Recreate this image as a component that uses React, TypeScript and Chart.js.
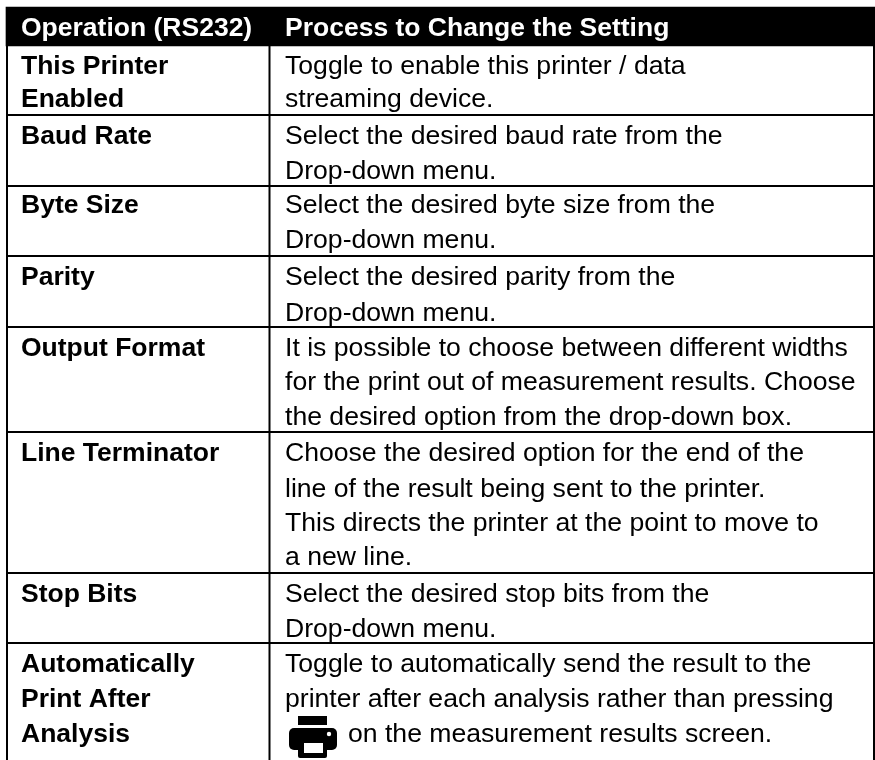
import React, { useEffect, useRef } from "react";
import { Chart, registerables } from "chart.js";

Chart.register(...registerables);

const headers = ["Operation (RS232)", "Process to Change the Setting"];
const operations = [
  ["This Printer", "Enabled"],
  ["Baud Rate"],
  ["Byte Size"],
  ["Parity"],
  ["Output Format"],
  ["Line Terminator"],
  ["Stop Bits"],
  ["Automatically", "Print After", "Analysis"],
];
const processes = [
  ["Toggle to enable this printer / data", "streaming device."],
  ["Select the desired baud rate from the", "Drop-down menu."],
  ["Select the desired byte size from the", "Drop-down menu."],
  ["Select the desired parity from the", "Drop-down menu."],
  ["It is possible to choose between different widths", "for the print out of measurement results. Choose", "the desired option from the drop-down box."],
  ["Choose the desired option for the end of the", "line of the result being sent to the printer.", "This directs the printer at the point to move to", "a new line."],
  ["Select the desired stop bits from the", "Drop-down menu."],
  ["Toggle to automatically send the result to the", "printer after each analysis rather than pressing", "on the measurement results screen."],
];
const baselines = [
  [74, 107],
  [144, 179],
  [213, 248],
  [285, 321],
  [356, 390, 425],
  [461, 497, 531, 565],
  [602, 637],
  [672, 707, 742],
];
const rowLines = [115, 186, 256, 327, 432, 573, 643];
const columnDivider = 269.5;
const tableLeft = 7;
const tableRight = 874;
const headerTop = 7;
const headerBottom = 46;
const pageBottom = 760;

const FONT = '"Liberation Sans", Arial, sans-serif';
const BODY_SIZE = 26.6;
const BOLD_SIZE = 26.5;

const tablePlugin = {
  id: "tablePlugin",
  afterDatasetsDraw(chart: any) {
    const { ctx, scales } = chart;
    const x = scales.x;
    const y = scales.y;
    const px = (v: number) => x.getPixelForValue(v);
    const py = (v: number) => y.getPixelForValue(v);
    ctx.save();
    ctx.strokeStyle = "#000";
    ctx.lineWidth = 2;
    rowLines.forEach((v) => {
      ctx.beginPath();
      ctx.moveTo(px(tableLeft), py(v));
      ctx.lineTo(px(tableRight), py(v));
      ctx.stroke();
    });
    const vline = (v: number, a: number, b: number) => {
      ctx.beginPath();
      ctx.moveTo(px(v), py(a));
      ctx.lineTo(px(v), py(b));
      ctx.stroke();
    };
    vline(tableLeft, headerTop, pageBottom);
    vline(tableRight, headerTop, pageBottom);
    vline(columnDivider, headerBottom, pageBottom);

    ctx.textBaseline = "alphabetic";
    ctx.textAlign = "left";
    ctx.fillStyle = "#fff";
    ctx.font = `bold ${BOLD_SIZE}px ${FONT}`;
    ctx.fillText(headers[0], px(21), py(36));
    ctx.fillText(headers[1], px(285), py(36));

    ctx.fillStyle = "#000";
    operations.forEach((lines, r) => {
      ctx.font = `bold ${BOLD_SIZE}px ${FONT}`;
      lines.forEach((t, i) => ctx.fillText(t, px(21), py(baselines[r][i])));
      ctx.font = `${BODY_SIZE}px ${FONT}`;
      processes[r].forEach((t, i) => {
        const isIconLine = r === processes.length - 1 && i === 2;
        ctx.fillText(t, px(isIconLine ? 348 : 285), py(baselines[r][i]));
      });
    });

    // printer glyph
    const ix = px(289);
    const iy = py(716);
    ctx.fillStyle = "#000";
    ctx.fillRect(ix + 9, iy, 29, 9);
    ctx.beginPath();
    ctx.roundRect(ix, iy + 12, 48, 22, 5);
    ctx.fill();
    ctx.beginPath();
    ctx.roundRect(ix + 9, iy + 26, 29, 16, 2);
    ctx.fill();
    ctx.fillStyle = "#fff";
    ctx.fillRect(ix + 15, iy + 27, 19, 10);
    ctx.beginPath();
    ctx.arc(ix + 40, iy + 18, 2.2, 0, Math.PI * 2);
    ctx.fill();
    ctx.restore();
  },
};

export default function App() {
  const ref = useRef<HTMLCanvasElement>(null);
  useEffect(() => {
    const chart = new Chart(ref.current!, {
      type: "bar",
      data: {
        labels: ["header"],
        datasets: [
          {
            data: [{ x: [tableLeft - 1, tableRight + 1], y: (headerTop + headerBottom) / 2 }] as any,
            backgroundColor: "#000",
            barThickness: headerBottom - headerTop,
            borderWidth: 0,
          },
        ],
      },
      options: {
        indexAxis: "y",
        responsive: false,
        animation: false,
        layout: { padding: 0 },
        plugins: { legend: { display: false }, tooltip: { enabled: false }, title: { display: false } },
        scales: {
          x: { type: "linear", display: false, min: 0, max: 875 },
          y: { type: "linear", display: false, min: 0, max: 760, reverse: true, offset: false },
        },
      },
      plugins: [tablePlugin],
    });
    return () => chart.destroy();
  }, []);
  return (
    <canvas
      ref={ref}
      width={875}
      height={760}
      style={{ position: "fixed", left: 0, top: 0, display: "block", background: "#fff" }}
    />
  );
}
